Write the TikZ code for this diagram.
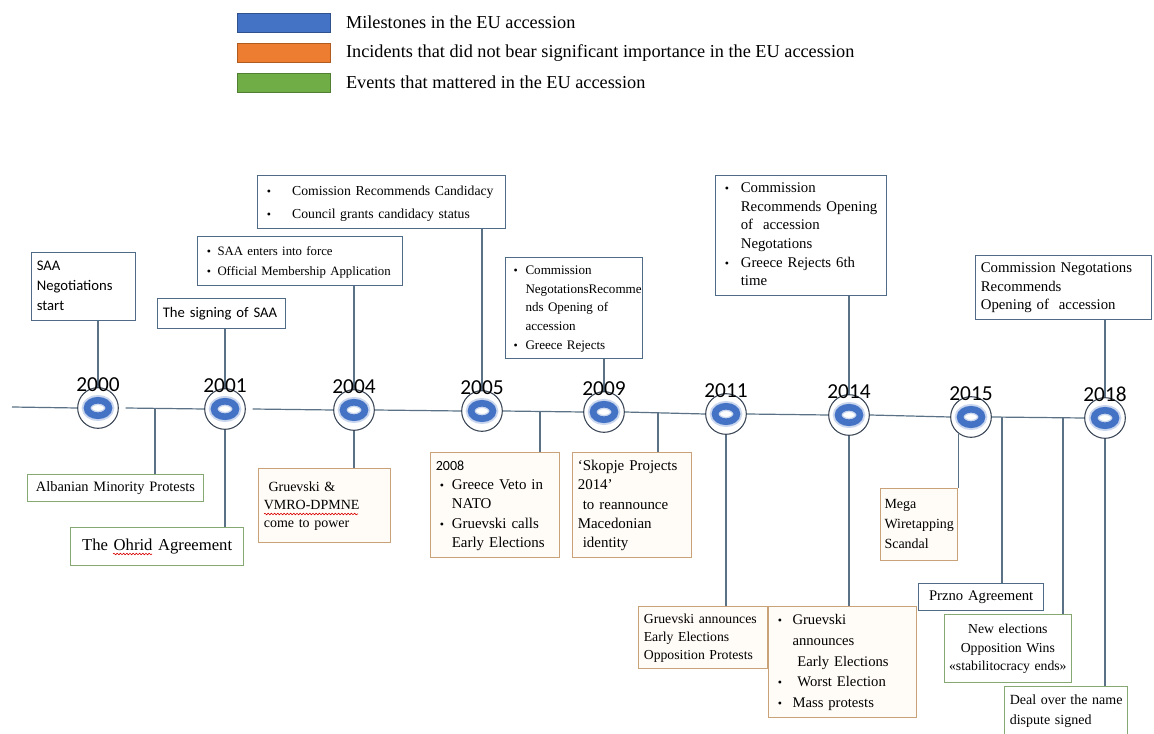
\documentclass[tikz,border=0pt]{standalone}
\usepackage{fontspec}
\setmainfont{Liberation Serif}
\newfontfamily\calibri{Carlito}
\usetikzlibrary{positioning,decorations.pathmorphing}

\definecolor{msblue}{HTML}{4472C4}
\definecolor{msblueline}{HTML}{2F528F}
\definecolor{msorange}{HTML}{ED7D31}
\definecolor{msorangeline}{HTML}{AE5A21}
\definecolor{msgreen}{HTML}{70AD47}
\definecolor{msgreenline}{HTML}{507E32}
\definecolor{topline}{HTML}{4F6B87}
\definecolor{orline}{HTML}{C9A27A}
\definecolor{orfill}{HTML}{FFFCF7}
\definecolor{grline}{HTML}{86A873}
\definecolor{conline}{HTML}{5B7186}
\definecolor{ringgray}{HTML}{3A4656}

\newcommand{\bitem}[1][12pt]{\makebox[#1][l]{\hspace{3pt}\small•}}
\newcommand{\bcont}[1][12pt]{\hspace*{#1}}
\newcommand{\leftrows}[1]{\begin{tabular}{@{}l@{}}#1\end{tabular}}
\newcommand{\centrows}[1]{\begin{tabular}{@{}c@{}}#1\end{tabular}}

\tikzset{
  legbox/.style={rectangle, anchor=north west, minimum width=70pt, minimum height=14pt, inner sep=0pt, line width=0.6pt},
  legtext/.style={inner sep=0pt, font=\fontsize{13.7}{15}\selectfont},
  conn/.style={draw=conline, line width=0.9pt},
  spellmark/.style={draw=red!85!black, line width=0.45pt, decorate,
    decoration={snake, amplitude=0.6pt, segment length=2.4pt}},
  yearnode/.style={circle, draw=ringgray, line width=0.8pt, minimum size=30.5pt, inner sep=0pt, fill=white,
    path picture={
      \draw[msblue!28, line width=7.5pt] (path picture bounding box.center) ellipse (8.4pt and 6pt);
      \draw[msblue, line width=5pt] (path picture bounding box.center) ellipse (8.2pt and 5.8pt);}},
  yeartext/.style={anchor=base, inner sep=0pt, font=\calibri\fontsize{16}{16}\selectfont},
  box/.style={rectangle, anchor=north west, fill=white, line width=0.75pt, align=left,
    inner xsep=4pt, inner ysep=3pt, font=\fontsize{10}{14}\selectfont},
  cbox/.style={align=center},
  topbox/.style={box, draw=topline},
  orbox/.style={box, draw=orline, fill=orfill},
  grbox/.style={box, draw=grline},
  calfont/.style={font=\calibri\fontsize{11}{15}\selectfont}
}

\begin{document}
\begin{tikzpicture}[x=0.75pt,y=-0.75pt]
\useasboundingbox (0,0) rectangle (1154,734);

\node[legbox, fill=msblue, draw=msblueline] (L1) at (237,13) {};
\node[legtext, right=11pt of L1] (LT1) {Milestones in the EU accession};
\node[legbox, fill=msorange, draw=msorangeline] (L2) at (237,43) {};
\node[legtext, right=11pt of L2] (LT2) {Incidents that did not bear significant importance in the EU accession};
\node[legbox, fill=msgreen, draw=msgreenline] (L3) at (237,73) {};
\node[legtext, right=11pt of L3] (LT3) {Events that mattered in the EU accession};

\node[yearnode] (Y2000) at (98,408) {};
\node[yearnode] (Y2001) at (225,409) {};
\node[yearnode] (Y2004) at (354,410) {};
\node[yearnode] (Y2005) at (482,411) {};
\node[yearnode] (Y2009) at (604,412) {};
\node[yearnode] (Y2011) at (726,414) {};
\node[yearnode] (Y2014) at (849,415) {};
\node[yearnode] (Y2015) at (971,417) {};
\node[yearnode] (Y2018) at (1105,418) {};

\coordinate (S0) at (12,407);
\coordinate (J1) at (155,408);
\coordinate (J2) at (540,412);
\coordinate (J3) at (658,413);
\coordinate (J4) at (1002,417.3);
\coordinate (J5) at (1063,417.7);

\draw[conn] (S0) -- (Y2000.west);
\draw[conn] ([xshift=5pt]Y2000.east) -- (Y2001.west);
\draw[conn] ([xshift=5pt]Y2001.east) -- (Y2004.west);
\draw[conn] (Y2004.east) -- (Y2005.west);
\draw[conn] (Y2005.east) -- (Y2009.west);
\draw[conn] (Y2009.east) -- (Y2011.west);
\draw[conn] (Y2011.east) -- (Y2014.west);
\draw[conn] (Y2014.east) -- (Y2015.west);
\draw[conn] (Y2015.east) -- (Y2018.west);

\node[topbox, calfont, text width=70pt, minimum height=49.5pt] (T1) at (31,252) {\leftrows{SAA\\Negotiations\\start}};
\node[topbox, calfont, text width=88pt, minimum height=22.5pt] (T2) at (157,298) {\leftrows{The signing of SAA}};
\node[topbox, text width=146pt, minimum height=37pt, font=\fontsize{9.6}{15}\selectfont] (T3) at (197,236)
  {\leftrows{\bitem[11pt]SAA enters into force\\\bitem[11pt]Official Membership Application}};
\node[topbox, text width=178pt, minimum height=40pt, font=\fontsize{10.3}{17}\selectfont] (T4) at (257,175)
  {\leftrows{\bitem[22pt]Comission Recommends Candidacy\\\bitem[22pt]Council grants candidacy status}};
\node[topbox, text width=97pt, minimum height=74pt, inner xsep=3pt, font=\fontsize{9.8}{14}\selectfont] (T5) at (505,257)
  {\leftrows{\bitem Commission\\\bcont NegotationsRecomme\\\bcont nds Opening of\\\bcont accession\\\bitem Greece Rejects}};
\node[topbox, text width=120pt, minimum height=88pt, font=\fontsize{11.1}{14}\selectfont] (T6) at (715,175)
  {\leftrows{\bitem[15pt]Commission\\\bcont[15pt]Recommends Opening\\\bcont[15pt]of\ \ accession\\\bcont[15pt]Negotations\\\bitem[15pt]Greece Rejects 6th\\\bcont[15pt]time}};
\node[topbox, text width=124pt, minimum height=43pt, font=\fontsize{11.1}{14}\selectfont] (T7) at (975,255)
  {\leftrows{Commission Negotations\\Recommends\\Opening of\ \ accession}};

\draw[conn] (Y2000.north) -- (Y2000.north |- T1.south);
\draw[conn] (Y2001.north) -- (Y2001.north |- T2.south);
\draw[conn] (Y2004.north) -- (Y2004.north |- T3.south);
\draw[conn] (Y2005.north) -- (Y2005.north |- T4.south);
\draw[conn] (Y2009.north) -- (Y2009.north |- T5.south);
\draw[conn] (Y2014.north) -- (Y2014.north |- T6.south);
\draw[conn] (Y2018.north) -- (Y2018.north |- T7.south);

\node[yeartext] at ([yshift=-3pt]Y2000.north) {2000};
\node[yeartext] at ([yshift=-3pt]Y2001.north) {2001};
\node[yeartext] at ([yshift=-3pt]Y2004.north) {2004};
\node[yeartext] at ([yshift=-3pt]Y2005.north) {2005};
\node[yeartext] at ([yshift=-3pt]Y2009.north) {2009};
\node[yeartext] at ([yshift=-3pt]Y2011.north) {2011};
\node[yeartext] at ([yshift=-3pt]Y2014.north) {2014};
\node[yeartext] at ([yshift=-3pt]Y2015.north) {2015};
\node[yeartext] at ([yshift=-3pt]Y2018.north) {2018};

\node[grbox, cbox, text width=124pt, minimum height=19.5pt, font=\fontsize{10.8}{14}\selectfont] (B1) at (27,474) {\centrows{Albanian Minority Protests}};
\node[grbox, cbox, text width=122pt, minimum height=28.5pt, font=\fontsize{12.5}{15}\selectfont] (B2) at (70,527) {\centrows{The Ohrid Agreement}};
\node[orbox, text width=91pt, minimum height=55.5pt, font=\fontsize{10.5}{13.5}\selectfont] (B3) at (258,468) {\leftrows{\ Gruevski \&\\VMRO-DPMNE\\come to power}};
\node[orbox, text width=89pt, minimum height=78pt, font=\fontsize{11.2}{14.5}\selectfont] (B4) at (430,452)
  {\leftrows{{\calibri\fontsize{10.5}{14.5}\selectfont 2008}\\\bitem Greece Veto in\\\bcont NATO\\\bitem Gruevski calls\\\bcont Early Elections}};
\node[orbox, text width=81pt, minimum height=79pt, font=\fontsize{11.2}{14.5}\selectfont] (B5) at (572,452)
  {\leftrows{‘Skopje Projects\\2014’\\\ to reannounce\\Macedonian\\\ identity}};
\node[orbox, text width=89pt, minimum height=46.5pt, font=\fontsize{10.3}{13.5}\selectfont] (B6) at (638,606)
  {\leftrows{Gruevski announces\\Early Elections\\Opposition Protests}};
\node[orbox, text width=103pt, minimum height=82.5pt, font=\fontsize{11}{15.5}\selectfont] (B7) at (768,606)
  {\leftrows{\bitem[14pt]Gruevski\\\bcont[14pt]announces\\\bcont[14pt]\ Early Elections\\\bitem[14pt]\ Worst Election\\\bitem[14pt]Mass protests}};
\node[orbox, text width=52pt, minimum height=54pt, font=\fontsize{10.5}{15}\selectfont, inner xsep=3pt] (B8) at (880,488)
  {\leftrows{Mega\\Wiretapping\\Scandal}};
\node[topbox, cbox, text width=86pt, minimum height=18pt, font=\fontsize{11}{14}\selectfont] (B9) at (918,583) {\centrows{Przno Agreement}};
\node[grbox, cbox, text width=91pt, minimum height=51pt, inner xsep=2pt, font=\fontsize{10.3}{14}\selectfont] (B10) at (944,614)
  {\centrows{New elections\\Opposition Wins\\«stabilitocracy ends»}};
\node[grbox, text width=84pt, minimum height=36pt, font=\fontsize{10.5}{14.5}\selectfont] (B11) at (1004,686)
  {\leftrows{Deal over the name\\dispute signed}};

\coordinate (SP1a) at (113,554);
\coordinate (SP1b) at (152,554);
\coordinate (SP2a) at (264,514);
\coordinate (SP2b) at (358,514);
\draw[spellmark] (SP1a) -- (SP1b);
\draw[spellmark] (SP2a) -- (SP2b);

\draw[conn] (J1) -- (J1 |- B1.north);
\draw[conn] (Y2001.south) -- (Y2001.south |- B2.north);
\draw[conn] (Y2004.south) -- (Y2004.south |- B3.north);
\draw[conn] (J2) -- (J2 |- B4.north);
\draw[conn] (J3) -- (J3 |- B5.north);
\draw[conn] (Y2011.south) -- (Y2011.south |- B6.north);
\draw[conn] (Y2014.south) -- (Y2014.south |- B7.north);
\draw[conn] (Y2015.233) -- (Y2015.233 |- B8.north);
\draw[conn] (J4) -- (J4 |- B9.north);
\draw[conn] (J5) -- (J5 |- B10.north);
\draw[conn] (Y2018.south) -- (Y2018.south |- B11.north);
\end{tikzpicture}
\end{document}
